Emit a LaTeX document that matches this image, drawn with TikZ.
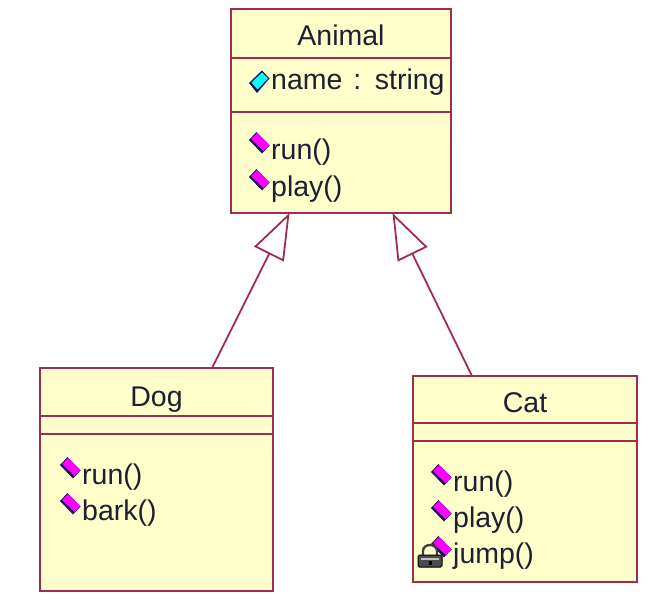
\documentclass[tikz,border=0pt]{standalone}
\usepackage{fontspec}
\setmainfont{Liberation Sans}
\usetikzlibrary{positioning,arrows.meta}
\definecolor{umlfill}{HTML}{FFFFCC}
\definecolor{umlline}{HTML}{A32A50}
\definecolor{umltext}{HTML}{1C2030}
\definecolor{umlicon}{HTML}{14105A}
\definecolor{umlop}{HTML}{FF00FF}
\definecolor{umlattr}{HTML}{00FFFF}

\begin{document}
\begin{tikzpicture}[
    x=1pt,
    y=-1pt,
    node distance=0pt,
    classbox/.style={
        rectangle,
        draw=umlline,
        fill=umlfill,
        line width=1.8pt,
        outer sep=0pt,
        inner sep=0pt,
        text=umltext,
        text depth=0pt,
        font=\fontsize{28.5}{30}\selectfont
    },
    member/.style={
        anchor=base west,
        inner sep=0pt,
        text=umltext,
        font=\fontsize{28.5}{30}\selectfont
    },
    arrow/.style={
        -{Triangle[open,length=46pt,width=33pt]},
        draw=umlline,
        line width=1.8pt
    },
    opicon/.pic={
        \fill[umlicon] (-10.5,-2) -- (-3,-10) -- (10,3.5) -- (2.5,11.5) -- cycle;
        \fill[umlop] (-8.5,-3) -- (-2.5,-9) -- (10,3) -- (4,9) -- cycle;
    },
    attricon/.pic={
        \fill[umlicon] (-10.5,1.5) -- (-2.5,11.5) -- (10,-3) -- (2.5,-11) -- cycle;
        \fill[umlattr] (-8,1) -- (-2,8) -- (8.5,-3) -- (2.5,-9) -- cycle;
    },
    lockicon/.pic={
        \draw[draw=black!75,line width=2.4pt] (-7,1) -- (-7,-4) .. controls (-7,-12) and (7,-12) .. (7,-4) -- (7,1);
        \draw[fill=black!70,draw=black,line width=1pt,rounded corners=1.5pt] (-12,0) rectangle (12,12);
        \fill[black!25] (-9,2.5) rectangle (9,5);
        \fill[black] (-1.5,6) rectangle (1.5,10);
    }
]
\useasboundingbox (0,0) rectangle (655,605);

% Animal
\node[classbox, minimum width=220pt, minimum height=49pt, text height=24pt] (animal) at (341,33.5) {Animal};
\node[classbox, minimum width=220pt, minimum height=54pt, below=of animal] (animalattr) {};
\node[classbox, minimum width=220pt, minimum height=101pt, below=of animalattr] (animalops) {};

% Dog
\node[classbox, minimum width=233pt, minimum height=48pt, text height=28pt] (dog) at (156.5,392) {Dog};
\node[classbox, minimum width=233pt, minimum height=18pt, below=of dog] (dogattr) {};
\node[classbox, minimum width=233pt, minimum height=157pt, below=of dogattr] (dogops) {};

% Cat
\node[classbox, minimum width=224pt, minimum height=47pt, text height=25pt] (cat) at (525,399.5) {Cat};
\node[classbox, minimum width=224pt, minimum height=18pt, below=of cat] (catattr) {};
\node[classbox, minimum width=224pt, minimum height=141pt, below=of catattr] (catops) {};

% members
\node[member] (animalname) at (271,89) {name\hspace{3pt} : \hspace{3pt}string};
\node[member] (animalrun) at (271,159) {run()};
\node[member] (animalplay) at (271,196) {play()};
\node[member] (dogrun) at (82,484) {run()};
\node[member] (dogbark) at (82,520) {bark()};
\node[member] (catrun) at (453,491) {run()};
\node[member] (catplay) at (453,527) {play()};
\node[member] (catjump) at (453,563) {jump()};

\pic at ([shift={(-11.5,-7.5)}]animalname.base west) {attricon};
\foreach \m in {animalrun,animalplay,dogrun,dogbark,catrun,catplay,catjump}
    \pic at ([shift={(-11.5,-17)}]\m.base west) {opicon};
\pic at ([shift={(-23,-8)}]catjump.base west) {lockicon};

% inheritance
\coordinate (dogtop) at ([xshift=172pt]dog.north west);
\coordinate (cattop) at ([xshift=59pt]cat.north west);
\coordinate (animalleft) at ([xshift=58.5pt]animalops.south west);
\coordinate (animalright) at ([xshift=161.5pt]animalops.south west);
\draw[arrow] (dogtop) -- (animalleft);
\draw[arrow] (cattop) -- (animalright);

\end{tikzpicture}
\end{document}
